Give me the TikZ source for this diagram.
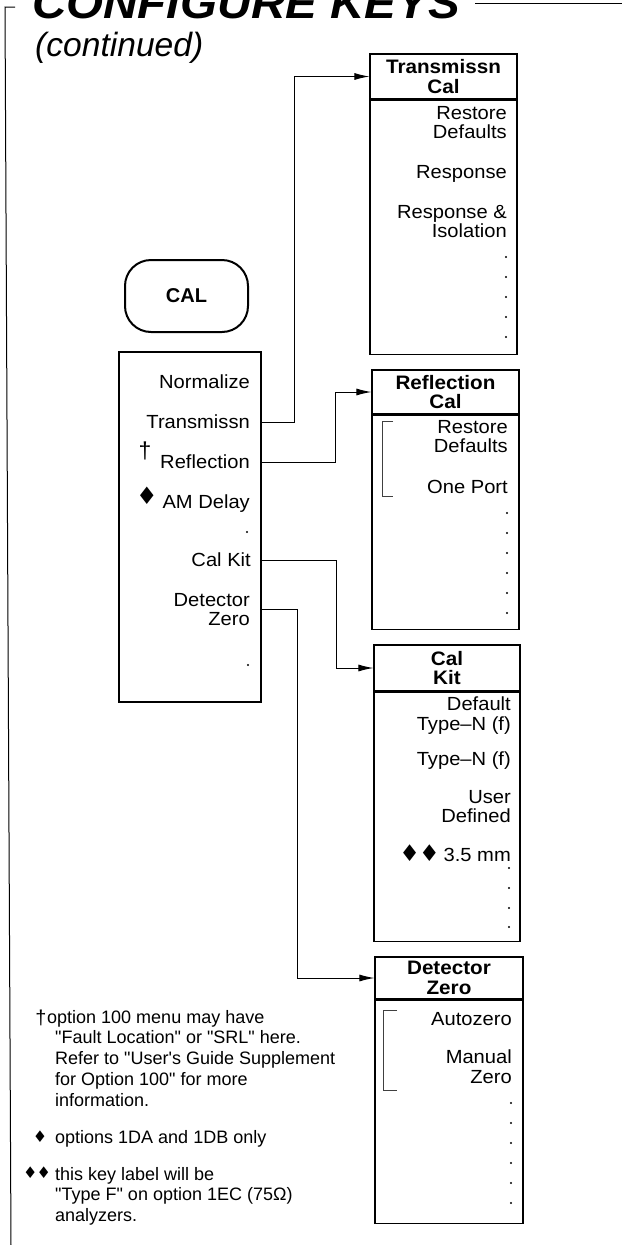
\documentclass[tikz,border=0pt]{standalone}
\usepackage{fontspec}
\setmainfont{Liberation Sans}
\newfontfamily\symfont{DejaVu Sans}
\newfontfamily\menufont{Liberation Sans}[FakeStretch=1.06]
\newfontfamily\titlefont{Liberation Sans}[FakeStretch=1.08]
\usetikzlibrary{arrows.meta,positioning}
\newcommand{\menuitemfont}{\menufont\fontsize{19}{19.5}\selectfont}
\newcommand{\menuheadfont}{\menufont\fontsize{19.5}{19.5}\selectfont\bfseries}
\newcommand{\menunotefont}{\fontsize{18}{20.7}\selectfont}
\tikzset{
  >=Latex,
  sheettitle/.style={font=\titlefont\fontsize{44}{44}\selectfont\bfseries\itshape, inner sep=0pt, anchor=base west},
  sheetsub/.style={font=\fontsize{33.6}{34}\selectfont\itshape, inner sep=0pt, anchor=base west},
  frame/.style={line width=1pt},
  hardkey/.style={
    rectangle, rounded corners=26pt, draw, line width=2pt,
    minimum width=123pt, minimum height=72pt,
    font=\fontsize{20}{20}\selectfont\bfseries
  },
  menuhead/.style={
    rectangle, draw, line width=1.1pt, inner sep=0pt,
    minimum width=147pt, minimum height=45pt, align=center, font=\menuheadfont
  },
  menubody/.style={rectangle, draw, line width=1.1pt, inner sep=0pt, minimum width=147pt},
  keylabel/.style={font=\menuitemfont, inner sep=0pt, align=right, anchor=north east},
  symmark/.style={inner sep=0pt, anchor=north},
  note/.style={font=\menunotefont, inner sep=0pt, align=left, anchor=north west},
  bracket/.style={line width=0.8pt, draw=black!75},
  link/.style={-{Latex[length=15pt,width=7pt]}, line width=1pt}
}

\begin{document}
\begin{tikzpicture}[x=1pt, y=-1pt]
\useasboundingbox (0,0) rectangle (622,1245);
% heading
\node[sheettitle] (title) at (32,18) {CONFIGURE KEYS};
\node[sheetsub] (cont) at (35,56) {(continued)};
\draw[frame] (15,7) -- (5,7) -- (11,1245);
\draw[frame] (475,3.5) -- (622,3.5);

% CAL key and its menu
\node[hardkey] (cal) at (186.5,296) {CAL};
\node[menubody, minimum width=142pt, minimum height=350pt] (main) at (190,527) {};
\node[keylabel] (mNorm) at (250,375) {Normalize};
\node[keylabel] (mTrans) at (250,415) {Transmissn};
\node[keylabel] (mRefl) at (250,455) {Reflection};
\node[keylabel] (mAMDelay) at (250,495) {AM Delay};
\node[keylabel] (mCalKit) at (251,553) {Cal Kit};
\node[keylabel] (mDetZero) at (250,593) {Detector\\Zero};
\node[symmark, font=\fontsize{23}{23}\selectfont] (mDagger) at (145,442) {†};
\node[symmark, font=\symfont\fontsize{24}{24}\selectfont] (mDiamond) at (147,487) {♦};
\fill (247,532) circle (1.1pt) (248,665) circle (1.1pt);

% Transmissn Cal
\node[menuhead] (tHead) at (443.5,76.5) {Transmissn\\Cal};
\node[menubody, minimum height=254pt, below=0pt of tHead] (tBody) {};
\node[keylabel] (tRestore) at (507,106) {Restore\\Defaults};
\node[keylabel] (tResp) at (507,165) {Response};
\node[keylabel] (tRespIso) at (507,205) {Response \&\\Isolation};
\foreach \y in {257,277,...,337} \fill (506,\y) circle (1.1pt);

% Reflection Cal
\node[menuhead, minimum height=44pt] (rHead) at (445.5,392) {Reflection\\Cal};
\node[menubody, minimum height=214pt, below=0pt of rHead] (rBody) {};
\node[keylabel] (rRestore) at (508,420) {Restore\\Defaults};
\node[keylabel] (rOnePort) at (508,480) {One Port};
\draw[bracket] (393,421) -- (382,421) -- (382,496) -- (393,496);
\foreach \y in {513,533,...,613} \fill (507,\y) circle (1.1pt);

% Cal Kit
\node[menuhead, minimum width=146pt, minimum height=46pt] (kHead) at (447,668) {Cal\\Kit};
\node[menubody, minimum width=146pt, minimum height=249pt, below=0pt of kHead] (kBody) {};
\node[keylabel] (kDefault) at (511,697) {Default\\Type–N (f)};
\node[keylabel] (kTypeN) at (511,752) {Type–N (f)};
\node[keylabel] (kUser) at (511,790) {User\\Defined};
\node[keylabel] (kMM) at (511,845) {{\symfont\fontsize{23}{23}\selectfont ♦\hspace{-1pt}♦}\hspace{4pt}3.5 mm};
\foreach \y in {868,888,908,927} \fill (509,\y) circle (1.1pt);

% Detector Zero
\node[menuhead, minimum width=148pt, minimum height=42pt] (dHead) at (449,978) {Detector\\Zero};
\node[menubody, minimum width=148pt, minimum height=223pt, below=0pt of dHead] (dBody) {};
\node[keylabel] (dAuto) at (512,1012) {Autozero};
\node[keylabel] (dManual) at (512,1050) {Manual\\Zero};
\draw[bracket] (397,1010) -- (383,1010) -- (383,1090) -- (397,1090);
\foreach \y in {1103,1123,...,1203} \fill (511,\y) circle (1.1pt);

% connectors
\draw[link] (mTrans.east -| main.east) -- ++(33,0) |- (tHead.west);
\draw[link] (mRefl.east -| main.east) -- ++(74,0) |- (rHead.west);
\draw[link] (mCalKit.east -| main.east) -- ++(75,0) |- (kHead.west);
\draw[link] (mDetZero.east -| main.east) -- ++(36,0) |- (dHead.west);

% footnotes
\node[symmark, font=\fontsize{20}{20}\selectfont] (nDagger) at (41,1010) {†};
\node[note] (nDaggerTxt) at (55,1010) {\hspace*{-8pt}option 100 menu may have\\\textquotedbl Fault Location\textquotedbl{} or \textquotedbl SRL\textquotedbl{} here.\\Refer to \textquotedbl User\textquotesingle s Guide Supplement\\for Option 100\textquotedbl{} for more\\information.};
\node[symmark, font=\symfont\fontsize{16}{16}\selectfont] (nDiamond) at (40,1131) {♦};
\node[note] (nDiamondTxt) at (55,1130) {options 1DA and 1DB only};
\node[symmark, font=\symfont\fontsize{16}{16}\selectfont] (nDiamonds) at (37,1167) {♦\hspace{-1pt}♦};
\node[note] (nDiamondsTxt) at (55,1167) {this key label will be\\\textquotedbl Type F\textquotedbl{} on option 1EC (75Ω)\\analyzers.};
\end{tikzpicture}
\end{document}
